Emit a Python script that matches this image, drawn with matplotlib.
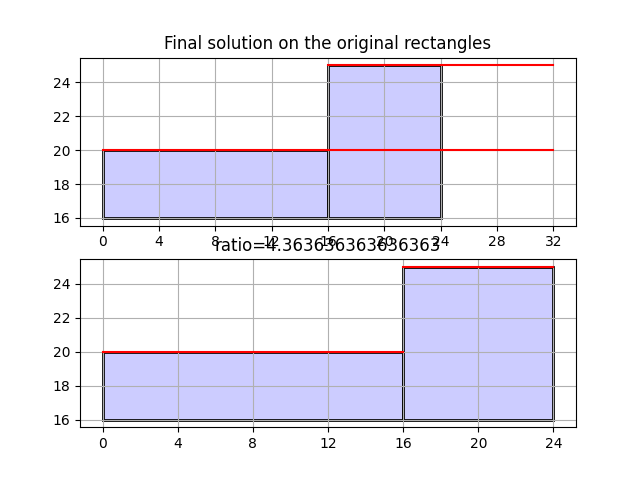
import matplotlib
matplotlib.use("Agg")
import matplotlib.pyplot as plt
from matplotlib.patches import Rectangle

# rectangles as (x, y, width, height)
rects_top = [(0, 16, 16, 4), (16, 16, 8, 9)]
rects_bottom = [(0, 16, 16, 4), (16, 16, 8, 9)]

# red solution lines as (x_start, x_end, y)
lines_top = [(0, 32, 20), (16, 32, 25)]
lines_bottom = [(0, 16, 20), (16, 24, 25)]

xticks_top = list(range(0, 33, 4))
xticks_bottom = list(range(0, 25, 4))

ratio = 4.363636363636363


def draw(ax, rects, lines, xticks, title):
    for x, y, w, h in rects:
        ax.add_patch(Rectangle((x, y), w, h, facecolor=(0.8, 0.8, 1.0),
                               edgecolor="black", linewidth=2))
    for x0, x1, y in lines:
        ax.plot([x0, x1], [y, y], color="red", linewidth=1.5)
    ax.autoscale_view()
    ax.set_xticks(xticks)
    ax.set_yticks([16, 18, 20, 22, 24])
    ax.grid(True)
    ax.set_title(title)


fig, (ax1, ax2) = plt.subplots(2, 1, figsize=(6.4, 4.8), dpi=100)
draw(ax1, rects_top, lines_top, xticks_top, "Final solution on the original rectangles")
draw(ax2, rects_bottom, lines_bottom, xticks_bottom, f"ratio={ratio}")
fig.savefig("out.png")
